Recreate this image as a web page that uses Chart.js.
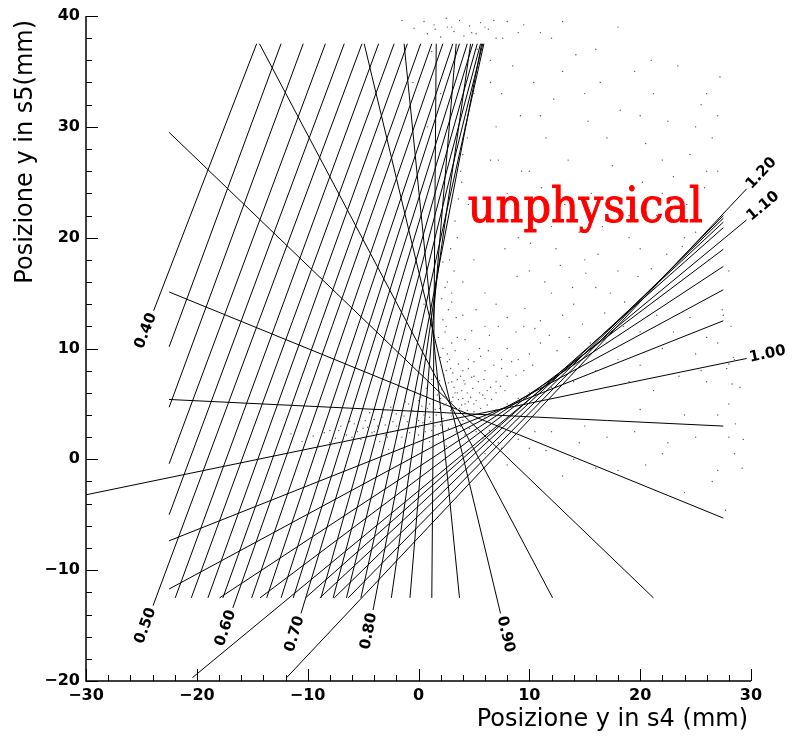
<!DOCTYPE html>
<html lang="it">
<head>
<meta charset="UTF-8">
<title>Posizione y in s4 / s5</title>
<script src="https://cdn.jsdelivr.net/npm/chart.js"></script>
<style>
  body { margin: 0; background: #ffffff; }
  #grafico { display: block; }
</style>
</head>
<body>
<canvas id="grafico" width="795" height="739"></canvas>
<script>
// un valore del parametro per ogni retta
const parametri = [0.40, 0.42, 0.44, 0.46, 0.48, 0.50, 0.52, 0.54, 0.56, 0.58,
                   0.60, 0.62, 0.64, 0.66, 0.68, 0.70, 0.72, 0.74, 0.76, 0.78,
                   0.80, 0.82, 0.84, 0.86, 0.88, 0.90, 0.92, 0.94, 0.96, 0.98,
                   1.00, 1.02, 1.04, 1.06, 1.08, 1.10, 1.12, 1.14, 1.16, 1.18, 1.20];

// estremo A (lato etichetta) e estremo B di ogni retta, in mm
const xA = [-23.9, -22.5, -22.5, -22.5, -22.5, -23.95, -21.95, -20.5, -19.0, -17.65,
            -16.75, -15.05, -13.7, -12.4, -11.3, -10.6, -8.8, -7.7, -6.5, -5.2,
            -4.1, -2.45, -0.77, 1.2, 3.7, 7.4, 12.1, 21.2, 27.5, 27.5,
            29.6, 27.5, 27.5, 27.5, 27.5, 29.6, 27.5, 27.5, 27.5, 27.5, 29.6];
const yA = [13.4, 10.15, 4.7, -0.4, -5.0, -13.2, -12.5, -12.5, -12.5, -12.5,
            -13.4, -12.5, -12.5, -12.5, -12.5, -13.9, -12.5, -12.5, -12.5, -12.5,
            -13.6, -12.5, -12.5, -12.5, -12.5, -13.9, -12.5, -12.5, -5.3, 3.0,
            9.1, 12.5, 15.3, 17.4, 18.95, 21.6, 20.9, 21.4, 21.75, 22.0, 24.4];
const xB = [-14.6, -12.4, -10.4, -8.4, -6.7, -5.1, -3.6, -2.2, -1.0, 0.2,
            1.2, 2.2, 3.1, 3.7, 4.4, 4.9, 5.3, 5.6, 5.8, 5.9,
            5.7, 4.7, 3.4, 1.6, -1.3, -4.9, -14.35, -22.5, -22.5, -22.5,
            -30, -22.5, -22.5, -17.95, -14.3, -20.4, -10.2, -8.9, -7.6, -6.35, -11.9];
const yB = [37.5, 37.5, 37.5, 37.5, 37.5, 37.5, 37.5, 37.5, 37.5, 37.5,
            37.5, 37.5, 37.5, 37.5, 37.5, 37.5, 37.5, 37.5, 37.5, 37.5,
            37.5, 37.5, 37.5, 37.5, 37.5, 37.5, 37.5, 29.5, 15.1, 5.4,
            -3.2, -7.35, -11.7, -12.5, -12.5, -19.7, -12.5, -12.5, -12.5, -12.5, -19.7];

// eventi misurati (punti grigi), letti a occhio dal grafico
const eventiX = [2.5, 3, 3.2, 2.8, 3.5, 4, 4.5, 5, 3.8, 4.2, 5.5, 6, 6.5, 5, 3, 2.5, 3.5, 4.5, 6, 7,
                 8, 7.5, 5.5, 4, 3, 2.8, 3.5, 4, 6, 8, 9, 10, 11, 9.5, 7, 5, 4.5, 3.8, 4.2, 5,
                 5.5, 4.8, 3, 1.5, 0.5, 2.5, 6, 7, 8, 9, 6.5, 7, 6.5, 8, 9, 10, 12, 13, 11, 14,
                 16, 15, 12, 10, 11, 13, 15, 17, 20, 22, 25, 26, 24, 22, 19, 18, 20, 26, 27, 21,
                 16, 12, 18, -6, -4, -2, 0, 1, 2, -1, -3, 1.5, 0.5, -5, -8, 2.5, 3, 3.5, 2, 1,
                 -1.5, 0, 4, 5, 6, 7, 8, 9, 10, 12, 14, 16, 18, 20, 22, 25, 27, 26, 28, 24,
                 20, 17, 15, 12, 10, 14, 18, 22, 27, 28, 27.5, 28,
                 2.2, 2.4, 2.6, 2.9, 3.1, 3.3, 3.6, 3.9, 4.1, 4.4, 4.7, 4.9, 5.2, 5.4, 5.8, 6.2, 6.6, 7.0, 7.4, 7.8,
                 3.4, 2.7, 3.0, 2.6, 3.2, 2.9, 3.3, 3.6, 3.9, 4.0, 4.4, 4.6, 5.1, 5.3, 4.5, 5.0, 5.6, 6.3, 6.8, 7.5,
                 8.4, 8.8, 9.5, 10.3, 4.2, 4.8, 5.2, 6.0, 6.4, 7.2, 8.0, 8.8, 9.6, 10.5, 11.8, 12.5, 13.6, 14.8, 15.5, 16.8,
                 -9, -8.5, -7.5, -7, -6.5, -5.8, -5.2, -4.6, -4.0, -3.5, -3.0, -2.5, -2.0, -1.5, -1.0, -0.5, 0, 0.4, 0.8, 1.2,
                 1.6, 2.0, 2.3, 2.7, 3.0, 3.4, 3.8, 4.2, 4.6, 5.2, 5.8, 6.4, 7.2, -3.2, -1.2, 0.2, 1.4, 1.9, 0.9, -0.4,
                 -2.7, 1.0, 2.5, 6, 7.5, 9, 10.5, 8, 11.5, 0.5, 1.0, 0.2, 1.5, 0.8, 2.0, -0.5, 1.2,
                 0.8, 1.4, 2.0, 2.6, 3.2, 3.7, 4.1, 4.6, 5.2, 5.6, 6.3, 6.8, -1.5, -0.4, 7.6, 9.5, 11, 13,
                 6.5, 7.5, 8.5, 9.2, 10.4, 11.5, 12.2, 13.5, 14.2, 15.3, 16.4, 17.5, 18.2, 19.5, 20.5, 21.2, 22.5, 23.4, 24.5, 25.5,
                 26.5, 27.2, 7.2, 8.1, 9.3, 10.2, 11.1, 12.4, 13.2, 14.5, 15.6, 16.6, 17.8, 19.0, 20.2, 21.5, 23.0, 24.2, 25.8, 27.0,
                 7.8, 8.9, 10.1, 11.4, 12.8, 13.9, 15.1, 16.2, 17.3, 18.6, 19.8, 21.0, 22.4, 23.8, 25.0, 26.2, 27.4, 26, 24.5, 23,
                 21.5, 20, 18.5, 17, 28.5, 28.2, 25.5, 23.5, 21.2, 19, 27, 25, 22.5, 19.5, 17, 14.5, 26.5, 24, 20.5, 16,
                 13, 28.3, 28, 28.4, 27.8, 29, 28.6, 29.3, 28.5, 29.2, 27.7,
                 2.1, 2.4, 2.7, 3.0, 3.3, 3.6, 3.9, 4.2, 2.3, 2.6, 2.0, 1.8, 2.2, 3.7, 4.4, 5.0, 5.6, 6.2, 2.9, 3.1,
                 2.5, 1.7, 1.9, 3.5, 4.0, 4.8, 5.9, 2.1, 2.4, 2.2,
                 -8, -7.2, -6.2, -5.5, -4.8, -4.2, -3.7, -3.3, -2.8, -2.3, -1.8, -1.3, -0.8, -0.2, 0.3, 0.6, 1.1, 1.5, 1.8, 2.2,
                 -6.8, -9.5, -10.5, -11.5, -4.4, -2.5, -0.9, 0.0, 0.7, 1.2];
const eventiY = [8, 7, 6.5, 9, 6, 5.5, 5.2, 5, 7.5, 6.8, 6, 5.5, 6.5, 7.5, 10.5, 12, 11, 9, 8, 7,
                 7.5, 9, 10, 13, 15, 18, 20, 16, 12, 10, 9, 9.5, 10.5, 12, 14, 18, 23, 26, 30, 33,
                 36, 38.5, 39, 38.8, 39.5, 39.8, 39, 38, 39.5, 38.5, 34, 30, 27, 24, 20, 17, 15, 13, 12.5, 14,
                 15.5, 18, 21, 26, 31, 35, 33, 29, 31, 27, 30, 33, 20, 24, 22, 17, 19, 26, 31, 36,
                 37, 38, 39, 2, 2.5, 3, 3.5, 3.8, 4.2, 2.7, 2.2, 3, 4, 2.8, 1.5, 3.5, 4.8, 4.5, 5.5, 5,
                 4, 2.2, 3.5, 3.2, 3.8, 4.5, 5, 5.5, 6, 6.5, 7, 8, 9, 8.5, 10, 9.5, 10.5, 7, 5, 4,
                 4.5, 3.5, 3, 2.5, 1, 0, -1, 0.5, -1, 2, 13, 17,
                 10, 11.5, 9.5, 8.2, 7.8, 9.8, 8.6, 6.2, 7.1, 6.0, 5.6, 6.4, 5.3, 7.0, 5.8, 6.2, 5.4, 6.0, 6.6, 6.2,
                 12.8, 13.5, 14.2, 16, 17, 19, 21.5, 23.5, 25, 27.5, 29, 31.5, 34.5, 37, 8.2, 8.8, 9.3, 9.8, 8.5, 8.2,
                 8.8, 7.6, 8, 8.5, 10.8, 11.6, 13.5, 15, 11.2, 12, 12.8, 11.5, 13.6, 11.8, 11.2, 9.8, 11, 12.2, 10.5, 13.2,
                 1.2, 2.4, 1.9, 3.0, 2.2, 3.2, 1.8, 2.9, 3.6, 1.6, 3.1, 2.5, 4.1, 2.0, 3.4, 4.4, 2.9, 3.3, 4.6, 2.6,
                 4.0, 3.1, 4.9, 2.8, 3.9, 2.5, 3.0, 2.2, 2.8, 2.5, 1.9, 2.6, 1.5, 4.6, 5.2, 5.6, 6.2, 7.1, 7.5, 1.4,
                 0.9, 1.6, 1.2, 0.5, 1, 1.8, 2.5, -0.5, 0.8, 14, 18, 22, 26, 30, 33, 34, 36.8,
                 38.4, 39.2, 38.1, 39.0, 38.6, 39.6, 38.2, 39.1, 38.4, 39.4, 38.8, 39.6, 39.6, 38.9, 38.0, 39.2, 38.5, 39.5,
                 36, 33, 35.5, 31, 34, 29, 32.5, 27, 36.5, 30.5, 34, 26.5, 31.5, 35, 28.5, 33, 30.5, 35.5, 27.5, 32,
                 29, 34.5, 27, 23.5, 26, 21, 24.5, 19, 23, 20.5, 24, 21, 23.5, 20, 25, 22, 25.5, 23, 24.5, 26,
                 19, 16.5, 19.5, 16, 17.5, 15.5, 16.8, 18.5, 15, 14.2, 16.5, 17.2, 18.5, 19.2, 20.5, 18, 13.5, 11, 12.8, 11.5,
                 13, 11.5, 12, 10.5, 9, 12, 8, 7.5, 6.2, 7, 4, 2, 1.5, 2.5, 2, 1.5, -2, -3, -0.5, -0.8,
                 -1.5, 6.8, 8.6, 9.2, 8.2, 6.5, 3.2, 1.8, 0.5, -0.8, -4.6,
                 6.3, 5.7, 6.9, 5.2, 6.0, 5.4, 4.9, 5.0, 7.6, 8.8, 9.2, 11.0, 12.6, 4.6, 4.4, 4.3, 4.6, 4.9, 4.4, 5.6,
                 5.0, 5.8, 4.6, 7.2, 8.0, 7.4, 7.2, 14.5, 15.5, 17.8,
                 2.6, 2.6, 3.4, 2.5, 3.5, 2.4, 3.0, 3.8, 2.0, 3.4, 2.9, 3.9, 2.4, 3.7, 4.8, 2.5, 3.4, 4.5, 2.2, 3.7,
                 1.6, 2.1, 1.6, 2.3, 4.2, 4.7, 5.0, 5.3, 6.4, 7.2];

const tickX = [-30, -20, -10, 0, 10, 20, 30];
const tickY = [-20, -10, 0, 10, 20, 30, 40];

const datasets = parametri.map((p, i) => ({
  data: [{ x: xA[i], y: yA[i] }, { x: xB[i], y: yB[i] }],
  showLine: true,
  borderColor: '#000000',
  borderWidth: 1,
  pointRadius: 0,
  fill: false
}));
datasets.unshift({
  data: eventiX.map((x, i) => ({ x: x, y: eventiY[i] })),
  showLine: false,
  pointRadius: 0.7,
  pointBackgroundColor: '#555555',
  pointBorderWidth: 0
});

function meno(v) {
  return String(v).replace('-', '\u2212');
}

// tacche interne, assi, titoli, etichette delle rette e scritta
const disegnoRoot = {
  id: 'disegnoRoot',
  afterDraw(chart) {
    const ctx = chart.ctx;
    const sx = chart.scales.x, sy = chart.scales.y;
    const a = chart.chartArea;
    ctx.save();
    ctx.strokeStyle = '#000000';
    ctx.lineWidth = 1.5;
    ctx.beginPath();
    ctx.moveTo(a.left, a.top);
    ctx.lineTo(a.left, a.bottom);
    ctx.lineTo(a.right, a.bottom);
    ctx.stroke();

    ctx.lineWidth = 1;
    ctx.beginPath();
    for (let v = -30; v <= 30; v += 2) {
      const px = Math.round(sx.getPixelForValue(v)) + 0.5;
      const len = v % 10 === 0 ? 12 : 6;
      ctx.moveTo(px, a.bottom);
      ctx.lineTo(px, a.bottom - len);
    }
    for (let v = -20; v <= 40; v += 2) {
      const py = Math.round(sy.getPixelForValue(v)) + 0.5;
      const len = v % 10 === 0 ? 12 : 6;
      ctx.moveTo(a.left, py);
      ctx.lineTo(a.left + len, py);
    }
    ctx.stroke();

    // titoli degli assi
    ctx.fillStyle = '#000000';
    ctx.font = '24px "DejaVu Sans"';
    ctx.textAlign = 'right';
    ctx.textBaseline = 'alphabetic';
    ctx.fillText('Posizione y in s4 (mm)', 748, 726);
    ctx.save();
    ctx.translate(32, 20);
    ctx.rotate(-Math.PI / 2);
    ctx.fillText('Posizione y in s5(mm)', 0, 0);
    ctx.restore();

    // etichette delle rette
    ctx.font = 'bold 15px "DejaVu Sans"';
    ctx.textBaseline = 'middle';
    parametri.forEach((p, i) => {
      if (Math.round(p * 100) % 10 !== 0) return;
      const ax = sx.getPixelForValue(xA[i]), ay = sy.getPixelForValue(yA[i]);
      const bx = sx.getPixelForValue(xB[i]), by = sy.getPixelForValue(yB[i]);
      const l = Math.hypot(ax - bx, ay - by);
      const dx = (ax - bx) / l, dy = (ay - by) / l;
      const ang = Math.atan2(dy, dx);
      ctx.save();
      ctx.translate(ax + dx * 3, ay + dy * 3);
      if (dx < 0) {
        ctx.rotate(ang + Math.PI);
        ctx.textAlign = 'right';
      } else {
        ctx.rotate(ang);
        ctx.textAlign = 'left';
      }
      ctx.fillText(p.toFixed(2), 0, 0);
      ctx.restore();
    });

    // scritta rossa
    ctx.fillStyle = '#ff0000';
    ctx.strokeStyle = '#ff0000';
    ctx.lineWidth = 1.1;
    ctx.font = '48px "DejaVu Serif"';
    ctx.textAlign = 'left';
    ctx.textBaseline = 'alphabetic';
    const tx = sx.getPixelForValue(4.45), ty = sy.getPixelForValue(21.4);
    const w = ctx.measureText('unphysical').width;
    ctx.save();
    ctx.translate(tx, ty);
    ctx.scale(235 / w, 1);
    ctx.fillText('unphysical', 0, 0);
    ctx.strokeText('unphysical', 0, 0);
    ctx.restore();
    ctx.restore();
  }
};

new Chart(document.getElementById('grafico'), {
  type: 'scatter',
  data: { datasets: datasets },
  options: {
    responsive: false,
    animation: false,
    layout: { padding: { top: 16, right: 44, left: 0, bottom: 0 } },
    plugins: { legend: { display: false }, tooltip: { enabled: false } },
    scales: {
      x: {
        type: 'linear', min: -30, max: 30,
        afterBuildTicks: s => { s.ticks = tickX.map(v => ({ value: v })); },
        afterFit: s => { s.height = 58; },
        grid: { display: false, drawTicks: false },
        border: { display: false },
        ticks: { color: '#000000', padding: 5, maxRotation: 0,
                 font: { family: 'DejaVu Sans', size: 16, weight: 'bold' },
                 callback: v => meno(v) }
      },
      y: {
        type: 'linear', min: -20, max: 40,
        afterBuildTicks: s => { s.ticks = tickY.map(v => ({ value: v })); },
        afterFit: s => { s.width = 86; },
        grid: { display: false, drawTicks: false },
        border: { display: false },
        ticks: { color: '#000000', padding: 6,
                 font: { family: 'DejaVu Sans', size: 16, weight: 'bold' },
                 callback: v => meno(v) }
      }
    }
  },
  plugins: [disegnoRoot]
});
</script>
</body>
</html>
